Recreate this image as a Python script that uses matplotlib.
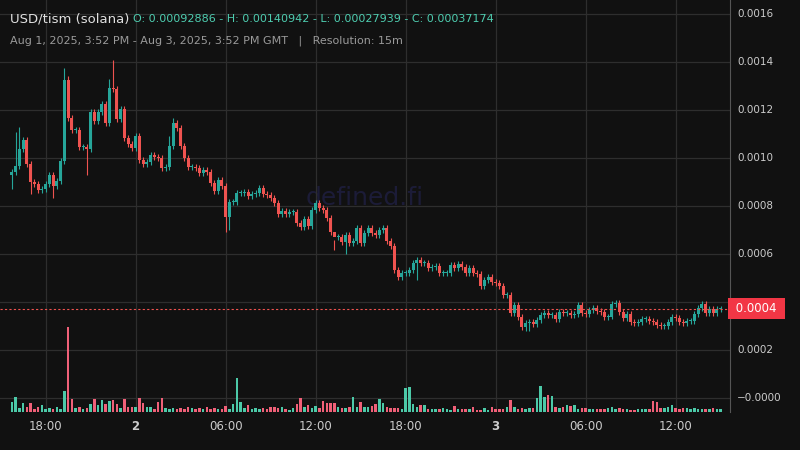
import matplotlib
matplotlib.use("Agg")
import matplotlib.pyplot as plt
from matplotlib.patches import Rectangle

# closes in units of 1e-4
closes = [9.42,9.67,10.38,10.75,9.75,9.00,8.92,8.67,8.71,8.92,9.29,8.83,9.04,9.88,13.25,11.67,11.17,11.17,10.46,10.46,
          10.38,11.92,11.54,11.92,12.25,11.46,12.92,12.88,11.63,12.04,10.83,10.58,10.42,10.92,9.92,9.75,9.83,10.13,10.04,10.00,
          9.58,9.63,10.50,11.46,11.25,10.50,10.00,9.63,9.63,9.58,9.38,9.50,9.42,
          8.96,8.63,9.08,8.83,7.54,8.17,8.17,8.54,8.54,8.58,8.42,8.50,8.54,8.75,8.50,8.46,8.33,8.13,7.67,7.79,7.67,7.75,7.75,7.29,
          7.13,7.46,7.17,7.83,8.13,7.92,7.83,7.50,6.92,6.71,6.71,6.50,6.79,6.46,6.54,7.08,6.46,6.88,7.08,6.88,6.79,7.00,7.08,6.54,
          6.33,5.33,5.04,5.21,5.21,5.33,5.63,5.75,5.63,5.63,5.42,5.46,5.50,5.21,5.21,5.21,5.54,5.42,5.58,5.46,5.21,5.42,5.21,5.17,
          4.67,4.92,5.04,4.83,4.79,4.67,4.29,4.29,
          3.54,3.88,3.38,2.96,3.13,3.17,3.08,3.25,3.46,3.54,3.46,3.46,3.29,3.58,3.54,3.54,3.46,3.50,3.88,3.54,3.50,3.67,3.75,3.63,
          3.58,3.38,3.38,3.92,3.96,3.58,3.33,3.50,3.17,3.13,3.17,3.29,3.29,3.21,3.17,3.04,3.00,3.00,3.17,3.38,3.33,3.17,3.13,3.21,
          3.21,3.50,3.75,3.92,3.54,3.71,3.54,3.71,3.7174]
first_open = 9.2886
wick_default = 0.12
wick_high = {1: 11.1, 2: 11.3, 14: 13.75, 15: 13.4, 26: 13.3, 27: 14.09, 42: 10.9, 43: 11.65, 86: 6.15}
wick_low = {0: 8.7, 5: 8.5, 11: 8.35, 20: 9.3, 57: 6.92, 58: 7.0, 89: 6.0, 108: 4.9, 137: 2.79, 138: 2.8, 160: 3.3}

volumes = [10,15,4,9,5,9,3,5,7,3,4,3,5,3,21,85,13,4,5,3,4,8,13,7,12,8,11,12,8,4,
           13,5,5,5,14,9,5,5,3,10,14,4,3,4,3,4,3,5,4,3,4,3,5,3,4,3,3,6,3,8,
           34,10,4,7,3,4,3,4,3,5,5,4,5,3,2,4,8,14,5,7,4,6,4,11,9,9,9,5,4,4,
           5,15,5,10,5,5,6,8,13,9,5,4,4,4,3,24,25,8,5,7,7,3,3,3,3,4,3,2,6,3,
           3,3,3,5,2,2,4,2,5,3,3,3,5,12,5,3,4,3,4,4,14,26,15,17,16,5,4,5,7,6,
           7,3,4,4,3,3,3,3,3,4,5,3,4,3,3,2,2,3,3,3,3,11,10,4,4,5,7,4,3,4,
           4,3,4,3,3,3,3,4,3,3]

tick_pos = [9, 33, 57, 81, 105, 129, 153, 177]
tick_labels = ["18:00", "2", "06:00", "12:00", "18:00", "3", "06:00", "12:00"]
price_ticks = [0.0, 2, 4, 6, 8, 10, 12, 14, 16]
price_labels = ["\u22120.0000", "0.0002", "0.0004", "0.0006", "0.0008", "0.0010", "0.0012", "0.0014", "0.0016"]

BG = "#111111"
UP = "#26a69a"
DN = "#ef5350"
VUP = "#4cc9a8"
VDN = "#f06078"

fig = plt.figure(figsize=(8, 4.5), dpi=100, facecolor=BG)
ax = fig.add_axes([0, 1 - 412 / 450, 730 / 800, 412 / 450])
ax.set_facecolor(BG)
n = len(closes)
px = 3.75
x0 = -(10 + 1.9) / px
ax.set_xlim(x0, x0 + 730 / px)
ax.set_ylim((398 - 412) / 24, 398 / 24)

vax = ax.twinx()
vax.set_ylim(0, 412)
vax.axis("off")

opens = [first_open] + closes[:-1]
for i, (o, c) in enumerate(zip(opens, closes)):
    up = c >= o
    col = UP if up else DN
    hi = wick_high.get(i, max(o, c) + wick_default)
    lo = wick_low.get(i, min(o, c) - wick_default)
    ax.vlines(i, lo, hi, color=col, lw=0.8, zorder=3)
    h = max(abs(c - o), 0.03)
    ax.add_patch(Rectangle((i - 0.38, min(o, c)), 0.76, h, color=col, lw=0, zorder=4))
    vax.bar(i, volumes[i], width=0.65, color=VUP if up else VDN, zorder=2)

ax.set_yticks(price_ticks)
ax.set_xticks(tick_pos)
ax.set_xticklabels(tick_labels)
for t in ax.get_xticklabels():
    if t.get_text() in ("2", "3"):
        t.set_fontweight("bold")
ax.grid(True, color="#2e2e2e", lw=0.9)
ax.set_yticklabels([])
ax.tick_params(axis="x", colors="#cccccc", labelsize=8.5, length=0, pad=6)
ax.tick_params(axis="y", length=0)
for s in ax.spines.values():
    s.set_visible(False)
ax.spines["right"].set_visible(True)
ax.spines["right"].set_color("#555555")

for v, lab in zip(price_ticks, price_labels):
    if lab == "0.0004":
        continue
    ax.text(1.01, v, lab, transform=ax.get_yaxis_transform(), color="#cccccc",
            fontsize=7.5, va="center", ha="left")

last = closes[-1]
ax.axhline(last, color=DN, lw=0.8, ls=(0, (2, 2)), zorder=5)
ax.text(1.003, last, " 0.0004 ", transform=ax.get_yaxis_transform(), color="white",
        fontsize=8.5, va="center", ha="left",
        bbox=dict(boxstyle="square,pad=0.35", fc="#f23645", ec="none"), zorder=6)

ax.text(0.5, 0.52, "defined.fi", transform=ax.transAxes, fontsize=18, color="#1c1c38",
        ha="center", va="center", zorder=1)

fig.text(10 / 800, 1 - 19 / 450, "USD/tism (solana)", color="#e0e0e0", fontsize=9.5, va="center")
fig.text(133 / 800, 1 - 19 / 450, "O: 0.00092886 - H: 0.00140942 - L: 0.00027939 - C: 0.00037174",
         color="#4ecdb0", fontsize=8, va="center")
fig.text(10 / 800, 1 - 41 / 450, "Aug 1, 2025, 3:52 PM - Aug 3, 2025, 3:52 PM GMT   |   Resolution: 15m",
         color="#9a9a9a", fontsize=8, va="center")

fig.savefig("out.png", dpi=100, facecolor=BG)
